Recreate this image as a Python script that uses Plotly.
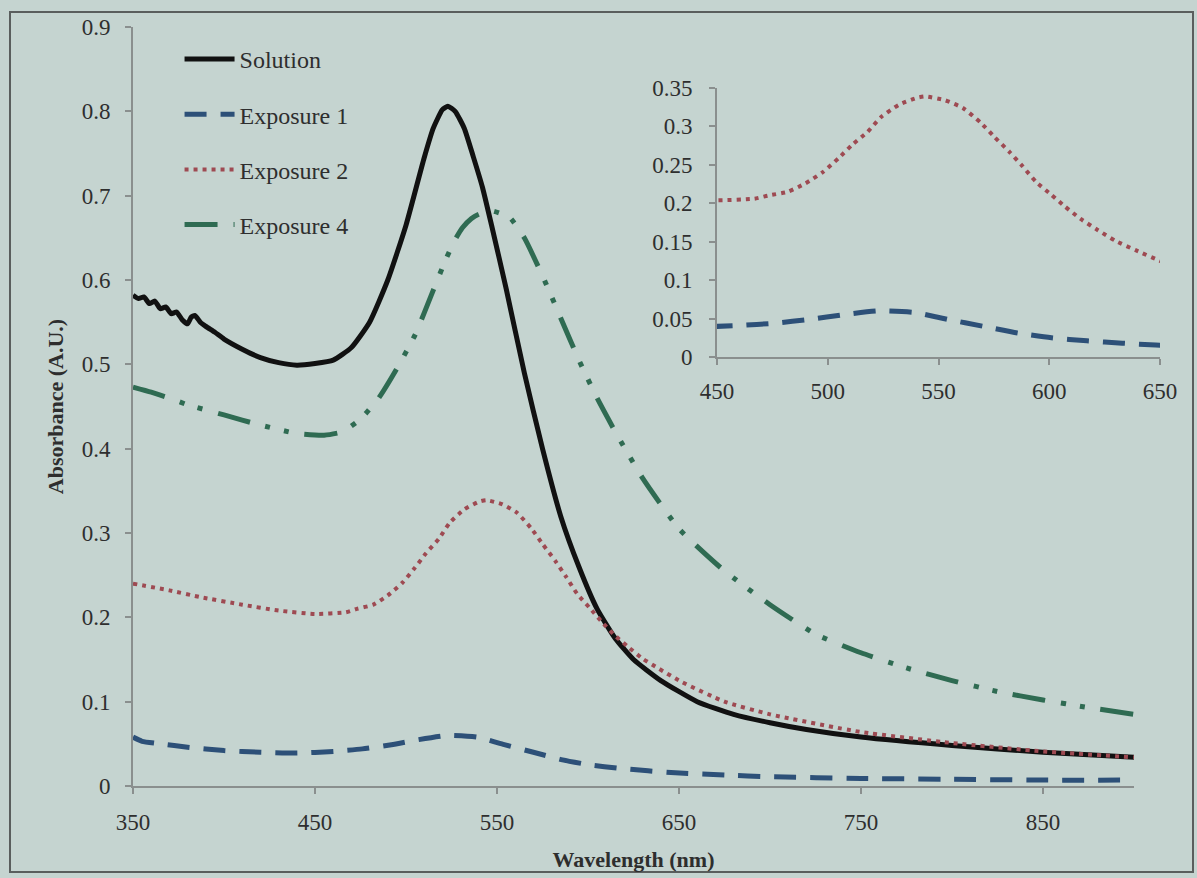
import plotly.graph_objects as go

# ---------------- data ----------------
sol_x = [350, 353, 356, 359, 362, 365, 368, 371, 374, 377, 380, 382, 384, 387, 390, 395,
         400, 410, 420, 430, 440, 450, 460, 470, 480, 490, 500, 510, 515, 520, 523, 527,
         532, 537, 542, 547, 555, 565, 575, 585, 595, 605, 615, 625, 640, 660, 680, 700,
         720, 750, 800, 850, 900]
sol_y = [0.582, 0.578, 0.580, 0.572, 0.575, 0.566, 0.568, 0.560, 0.562, 0.553, 0.548, 0.556,
         0.558, 0.550, 0.545, 0.538, 0.530, 0.518, 0.508, 0.502, 0.499, 0.501, 0.505, 0.520,
         0.550, 0.600, 0.665, 0.745, 0.780, 0.802, 0.806, 0.800, 0.780, 0.746, 0.710, 0.665,
         0.590, 0.490, 0.400, 0.320, 0.260, 0.210, 0.175, 0.150, 0.125, 0.100, 0.085, 0.075,
         0.067, 0.058, 0.048, 0.040, 0.034]

exp1_x = [350, 355, 365, 380, 400, 420, 440, 460, 476, 492, 507, 523, 539, 554, 570, 586,
          601, 617, 633, 648, 675, 700, 750, 800, 850, 900]
exp1_y = [0.058, 0.053, 0.050, 0.046, 0.042, 0.040, 0.039, 0.041, 0.044, 0.049, 0.055, 0.060,
          0.058, 0.049, 0.040, 0.031, 0.025, 0.021, 0.018, 0.0156, 0.013, 0.011, 0.009, 0.008,
          0.007, 0.007]

exp2_x = [350, 370, 387, 410, 430, 450, 467, 473, 482, 490, 498, 505, 511, 518, 524, 532,
          540, 544, 553, 561, 569, 575, 582, 588, 594, 601, 607, 614, 622, 630, 639, 651,
          675, 700, 750, 800, 850, 900]
exp2_y = [0.240, 0.232, 0.224, 0.215, 0.208, 0.204, 0.206, 0.210, 0.215, 0.226, 0.241, 0.259,
          0.276, 0.293, 0.312, 0.328, 0.337, 0.339, 0.334, 0.324, 0.305, 0.287, 0.267, 0.248,
          0.228, 0.211, 0.196, 0.180, 0.165, 0.151, 0.139, 0.124, 0.100, 0.085, 0.064, 0.051,
          0.041, 0.034]

exp4_x = [350, 360, 370, 380, 400, 420, 440, 455, 465, 475, 485, 495, 505, 515, 522, 527,
          531, 536, 540, 547, 557, 565, 575, 585, 595, 605, 615, 630, 650, 675, 700, 725,
          750, 775, 800, 825, 850, 875, 900]
exp4_y = [0.473, 0.467, 0.460, 0.452, 0.440, 0.428, 0.418, 0.416, 0.420, 0.435, 0.460, 0.495,
          0.535, 0.588, 0.625, 0.648, 0.662, 0.673, 0.678, 0.682, 0.674, 0.650, 0.605, 0.555,
          0.505, 0.460, 0.420, 0.365, 0.305, 0.255, 0.215, 0.180, 0.158, 0.140, 0.125, 0.112,
          0.102, 0.093, 0.085]

main_xticks = [350, 450, 550, 650, 750, 850]
main_yticks = [0, 0.1, 0.2, 0.3, 0.4, 0.5, 0.6, 0.7, 0.8, 0.9]
main_yticktext = ["0", "0.1", "0.2", "0.3", "0.4", "0.5", "0.6", "0.7", "0.8", "0.9"]
inset_xticks = [450, 500, 550, 600, 650]
inset_yticks = [0, 0.05, 0.1, 0.15, 0.2, 0.25, 0.3, 0.35]
inset_yticktext = ["0", "0.05", "0.1", "0.15", "0.2", "0.25", "0.3", "0.35"]

# ---------------- styling ----------------
W, H = 1197, 878
BG = "#c5d4d0"
C_SOL = "#111111"
C_E1 = "#2d5078"
C_E2 = "#9e4a52"
C_E4 = "#2f6b52"
AXC = "#8a8f8e"
TXT = "#2e2e2e"
FONT = "Liberation Serif"

d_e1 = "22px,14px"
d_e2 = "4px,5px"
d_e4 = "33px,16px,5px,14px,5px,16px"

SM = 0.5

fig = go.Figure()

fig.add_trace(go.Scatter(x=sol_x, y=sol_y, mode="lines", name="Solution",
                         line=dict(color=C_SOL, width=5, shape="spline", smoothing=SM),
                         legendgroup="a"))
fig.add_trace(go.Scatter(x=exp1_x, y=exp1_y, mode="lines", name="Exposure 1",
                         line=dict(color=C_E1, width=5, dash=d_e1, shape="spline", smoothing=SM),
                         legendgroup="b"))
fig.add_trace(go.Scatter(x=exp2_x, y=exp2_y, mode="lines", name="Exposure 2",
                         line=dict(color=C_E2, width=4, dash=d_e2, shape="spline", smoothing=SM),
                         legendgroup="c"))
fig.add_trace(go.Scatter(x=exp4_x, y=exp4_y, mode="lines", name="Exposure 4",
                         line=dict(color=C_E4, width=5, dash=d_e4, shape="spline", smoothing=SM),
                         legendgroup="d"))

# inset
fig.add_trace(go.Scatter(x=exp2_x, y=exp2_y, mode="lines", showlegend=False,
                         line=dict(color=C_E2, width=4, dash=d_e2, shape="spline", smoothing=SM),
                         xaxis="x2", yaxis="y2"))
fig.add_trace(go.Scatter(x=exp1_x, y=exp1_y, mode="lines", showlegend=False,
                         line=dict(color=C_E1, width=5, dash=d_e1, shape="spline", smoothing=SM),
                         xaxis="x2", yaxis="y2"))

tickfont = dict(family=FONT, size=23, color=TXT)

fig.update_layout(
    width=W, height=H,
    paper_bgcolor=BG, plot_bgcolor="rgba(0,0,0,0)",
    margin=dict(l=0, r=0, t=0, b=0),
    font=dict(family=FONT, color=TXT),
    xaxis=dict(domain=[133 / W, 1134 / W], range=[350, 900], tickvals=main_xticks,
               showgrid=False, zeroline=False, showline=True, linecolor=AXC, linewidth=2,
               ticks="outside", ticklen=6, tickcolor=AXC, tickwidth=1.5,
               tickfont=tickfont, ticklabelstandoff=8, automargin=False,
               title=dict(text="<b>Wavelength (nm)</b>", font=dict(family=FONT, size=22, color=TXT),
                          standoff=18)),
    yaxis=dict(domain=[(H - 786) / H, (H - 27) / H], range=[0, 0.9], tickvals=main_yticks,
               ticktext=main_yticktext,
               showgrid=False, zeroline=False, showline=True, linecolor=AXC, linewidth=2,
               ticks="outside", ticklen=6, tickcolor=AXC, tickwidth=1.5,
               tickfont=tickfont, ticklabelstandoff=10, automargin=False,
               title=dict(text="<b>Absorbance (A.U.)</b>", font=dict(family=FONT, size=22, color=TXT),
                          standoff=12)),
    xaxis2=dict(domain=[717 / W, 1160 / W], range=[450, 650], tickvals=inset_xticks,
                anchor="y2", showgrid=False, zeroline=False, showline=True, linecolor=AXC,
                linewidth=2, ticks="outside", ticklen=6, tickcolor=AXC, tickwidth=1.5,
                tickfont=tickfont, ticklabelstandoff=6, automargin=False),
    yaxis2=dict(domain=[(H - 357) / H, (H - 88) / H], range=[0, 0.35], tickvals=inset_yticks,
                ticktext=inset_yticktext,
                anchor="x2", showgrid=False, zeroline=False, showline=True, linecolor=AXC,
                linewidth=2, ticks="outside", ticklen=6, tickcolor=AXC, tickwidth=1.5,
                tickfont=tickfont, ticklabelstandoff=12, automargin=False),
    legend=dict(x=0.150, y=0.958, xanchor="left", yanchor="top", bgcolor="rgba(0,0,0,0)",
                font=dict(family=FONT, size=24, color=TXT), tracegroupgap=21, itemwidth=50),
    shapes=[dict(type="rect", xref="paper", yref="paper", x0=10 / W, x1=1193 / W,
                 y0=(H - 872) / H, y1=(H - 12) / H, line=dict(color="#5a5e5d", width=2),
                 fillcolor="rgba(0,0,0,0)", layer="below")],
)

fig.write_html(
    "out.html",
    config={"displayModeBar": False},
    post_script="document.body.style.margin='0px';document.body.style.overflow='hidden';"
                "document.body.style.background='" + BG + "';",
)
